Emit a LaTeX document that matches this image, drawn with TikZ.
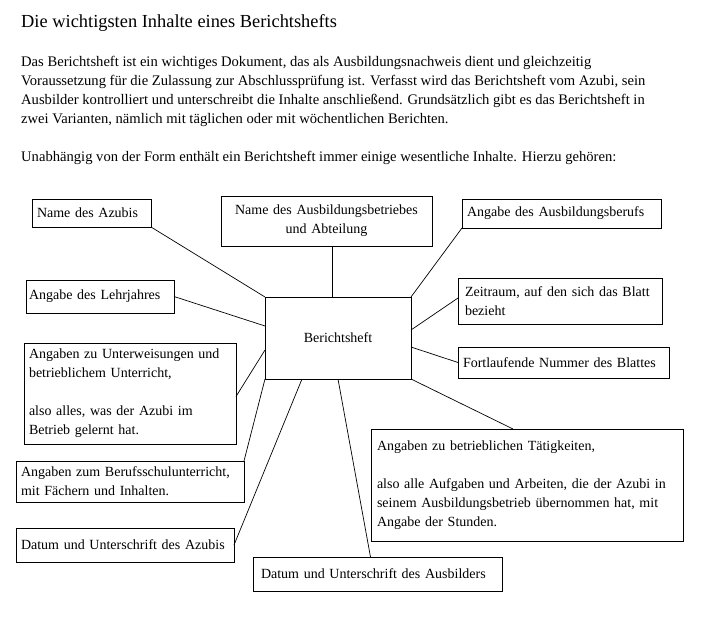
\documentclass[tikz,border=0pt]{standalone}
\usepackage{fontspec}
\setmainfont{Liberation Serif}
\usetikzlibrary{calc}
\tikzset{
  box/.style={draw=black,line width=1pt,outer sep=0pt,inner xsep=5pt,inner ysep=0pt,align=left,anchor=north west,
    font=\fontsize{14}{19}\selectfont},
  link/.style={draw=black,line width=.7pt},
  txt/.style={anchor=base west,inner sep=0pt,font=\fontsize{14.6}{19}\selectfont}
}

\begin{document}
\begin{tikzpicture}[x=1pt,y=-1pt]
  \useasboundingbox[fill=white] (0,0) rectangle (705,618);

  % heading and intro
  \node[txt,font=\fontsize{18.4}{22}\selectfont] (title) at (21,28) {Die wichtigsten Inhalte eines Berichtshefts};
  \node[txt] (intro1) at (21,66.5) {Das Berichtsheft ist ein wichtiges Dokument, das als Ausbildungsnachweis dient und gleichzeitig};
  \node[txt] (intro2) at (21,85.5) {Voraussetzung für die Zulassung zur Abschlussprüfung ist. Verfasst wird das Berichtsheft vom Azubi, sein};
  \node[txt] (intro3) at (21,104.5) {Ausbilder kontrolliert und unterschreibt die Inhalte anschließend. Grundsätzlich gibt es das Berichtsheft in};
  \node[txt] (intro4) at (21,123.5) {zwei Varianten, nämlich mit täglichen oder mit wöchentlichen Berichten.};
  \node[txt] (intro5) at (21,161.5) {Unabhängig von der Form enthält ein Berichtsheft immer einige wesentliche Inhalte. Hierzu gehören:};

  % centre
  \node[box,align=center,text width=136pt,minimum height=82pt] (heft) at (265,297) {Berichtsheft};

  % left side
  \node[box,text width=109pt,minimum height=28pt] (azubi) at (32,199) {Name des Azubis};
  \node[box,inner xsep=3pt,text width=142pt,minimum height=33pt] (lehrjahr) at (26,280) {Angabe des Lehrjahres};
  \node[box,text width=202pt,minimum height=101pt] (unterweis) at (24,343)
    {Angaben zu Unterweisungen und\\betrieblichem Unterricht,\\[19pt]also alles, was der Azubi im\\Betrieb gelernt hat.};
  \node[box,text width=218pt,minimum height=41pt] (schule) at (16,461) {Angaben zum Berufsschulunterricht,\\mit Fächern und Inhalten.};
  \node[box,text width=208pt,minimum height=34pt] (datazubi) at (16,528) {Datum und Unterschrift des Azubis};

  % top and right side
  \node[box,align=center,text width=201pt,minimum height=50pt] (betrieb) at (221,196) {Name des Ausbildungsbetriebes\\und Abteilung};
  \node[box,text width=189pt,minimum height=29pt] (beruf) at (462,199) {Angabe des Ausbildungsberufs};
  \node[box,inner xsep=7pt,text width=190pt,minimum height=46pt] (zeitraum) at (458,278) {Zeitraum, auf den sich das Blatt\\bezieht};
  \node[box,text width=201pt,minimum height=31pt] (nummer) at (458,347) {Fortlaufende Nummer des Blattes};
  \node[box,inner xsep=6pt,text width=300pt,minimum height=112pt] (taetig) at (371,429)
    {Angaben zu betrieblichen Tätigkeiten,\\[19pt]also alle Aufgaben und Arbeiten, die der Azubi in\\seinem Ausbildungsbetrieb übernommen hat, mit\\Angabe der Stunden.};
  \node[box,inner xsep=8pt,text width=233pt,minimum height=34pt] (datausb) at (253,557) {Datum und Unterschrift des Ausbilders};

  % connectors
  \draw[link] (azubi.south east) -- (heft.north west);
  \draw[link] ([xshift=6pt]betrieb.south) -- ([xshift=6pt]betrieb.south |- heft.north);
  \draw[link] (lehrjahr.east) -- ([yshift=12pt]heft.west);
  \draw[link] ([yshift=-3pt]unterweis.east) -- ([yshift=-12pt]heft.west);
  \draw[link] (beruf.south west) -- (heft.north east);
  \draw[link] ([yshift=3pt]zeitraum.west) -- ([yshift=8pt]heft.east);
  \draw[link] (nummer.west) -- ([yshift=-9pt]heft.east);
  \draw[link] (heft.south east) -- ([xshift=-14pt]taetig.north);
  \draw[link] (heft.south) -- ([xshift=-7pt]datausb.north);
  \draw[link] (heft.south west) -- (schule.north east);
  \draw[link] ([xshift=-36pt]heft.south) -- (datazubi.east);
\end{tikzpicture}
\end{document}
